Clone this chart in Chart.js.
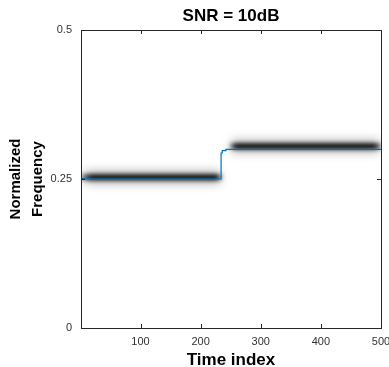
<html lang="en">
<head>
    <meta charset="UTF-8" />
    <title>SNR = 10dB</title>
</head>
<style>
    body { margin: 0; background: #fff; }
    .wrap { width: 389px; height: 367px; }
</style>
<body>
<div class="wrap">
    <canvas id="myChart" width="389" height="367"></canvas>
</div>

<script src="https://cdn.jsdelivr.net/npm/chart.js"></script>
<script>
    // tick labels
    const xTicks = [100, 200, 300, 400, 500];
    const yTicks = [0, 0.25, 0.5];

    // estimated frequency track (blue)
    const trackTime = [1, 12, 234, 234, 236, 236, 242, 242, 500];
    const trackFreq = [0.2512, 0.2500, 0.2500, 0.2936, 0.2936, 0.2975, 0.2975, 0.2997, 0.2997];

    // spectrogram ridge (dark blurred band)
    const ridgeTime = [1, 120, 238, null, 246, 380, 500];
    const ridgeFreq = [0.253, 0.253, 0.253, null, 0.305, 0.305, 0.305];

    const toXY = (t, v) => t.map((x, i) => ({ x: x, y: v[i] }));

    // fade the ridge in/out along time (time, alpha)
    const fade = [[1, 0.35], [18, 1], [226, 1], [238, 0], [246, 0], [258, 1], [488, 1], [500, 0.4]];

    function ridgeColor(alpha) {
        return function (context) {
            const chart = context.chart;
            const a = chart.chartArea;
            if (!a) return 'rgba(0,0,0,' + alpha + ')';
            const xs = chart.scales.x;
            const x0 = xs.getPixelForValue(1), x1 = xs.getPixelForValue(500);
            const g = chart.ctx.createLinearGradient(x0, 0, x1, 0);
            fade.forEach(f => {
                const p = (xs.getPixelForValue(f[0]) - x0) / (x1 - x0);
                g.addColorStop(Math.min(1, Math.max(0, p)), 'rgba(0,0,0,' + (alpha * f[1]) + ')');
            });
            return g;
        };
    }

    // blur the ridge datasets so they look like a spectrogram
    const blurPlugin = {
        id: 'blurRidge',
        beforeDatasetDraw(chart, args) {
            const ds = chart.data.datasets[args.index];
            if (ds.blur) {
                chart.ctx.save();
                chart.ctx.filter = 'blur(' + ds.blur + 'px)';
            }
        },
        afterDatasetDraw(chart, args) {
            const ds = chart.data.datasets[args.index];
            if (ds.blur) chart.ctx.restore();
        }
    };

    // matlab style box with inward ticks + title
    const boxPlugin = {
        id: 'box',
        afterDraw(chart) {
            const c = chart.ctx, a = chart.chartArea;
            const xs = chart.scales.x, ys = chart.scales.y;
            c.save();
            c.strokeStyle = '#262626';
            c.lineWidth = 1;
            c.strokeRect(Math.round(a.left) + 0.5, Math.round(a.top) + 0.5,
                Math.round(a.right - a.left), Math.round(a.bottom - a.top));
            c.beginPath();
            xTicks.forEach(v => {
                const p = Math.round(xs.getPixelForValue(v)) + 0.5;
                c.moveTo(p, a.bottom); c.lineTo(p, a.bottom - 4);
                c.moveTo(p, a.top); c.lineTo(p, a.top + 4);
            });
            yTicks.forEach(v => {
                const p = Math.round(ys.getPixelForValue(v)) + 0.5;
                c.moveTo(a.left, p); c.lineTo(a.left + 4, p);
                c.moveTo(a.right, p); c.lineTo(a.right - 4, p);
            });
            c.stroke();
            c.fillStyle = '#000';
            c.font = 'bold 17px "Liberation Sans", Arial, sans-serif';
            c.textAlign = 'center';
            c.textBaseline = 'middle';
            c.fillText('SNR = 10dB', (a.left + a.right) / 2, 16);
            c.restore();
        }
    };

    const ctx = document.querySelector('#myChart');
    const myChart = new Chart(ctx, {
        type: 'line',
        data: {
            datasets: [{
                label: 'track',
                data: toXY(trackTime, trackFreq),
                borderColor: '#0072BD',
                borderWidth: 1.2,
                pointRadius: 0,
                tension: 0,
                order: 0
            }, {
                label: 'ridge core',
                data: toXY(ridgeTime, ridgeFreq),
                borderColor: ridgeColor(0.95),
                borderWidth: 6,
                borderCapStyle: 'butt',
                pointRadius: 0,
                spanGaps: false,
                blur: 2,
                order: 1
            }, {
                label: 'ridge halo',
                data: toXY(ridgeTime, ridgeFreq),
                borderColor: ridgeColor(0.25),
                borderWidth: 14,
                borderCapStyle: 'butt',
                pointRadius: 0,
                spanGaps: false,
                blur: 4,
                order: 2
            }]
        },
        options: {
            responsive: false,
            animation: false,
            layout: { padding: { top: 30, right: 8, left: 0, bottom: 0 } },
            plugins: {
                legend: { display: false },
                tooltip: { enabled: false },
                title: { display: false }
            },
            scales: {
                x: {
                    type: 'linear',
                    min: 1,
                    max: 500,
                    afterBuildTicks: s => { s.ticks = xTicks.map(v => ({ value: v })); },
                    afterFit: s => { s.height = 39; s.paddingLeft = 0; s.paddingRight = 0; },
                    grid: { display: false, drawTicks: false, tickLength: 0 },
                    border: { display: false },
                    ticks: {
                        padding: 7,
                        maxRotation: 0,
                        color: '#333',
                        font: { family: '"Liberation Sans", Arial, sans-serif', size: 11 }
                    },
                    title: {
                        display: true,
                        text: 'Time index',
                        color: '#000',
                        padding: { top: 0, bottom: 0 },
                        font: { family: '"Liberation Sans", Arial, sans-serif', size: 17, weight: 'bold', lineHeight: 0.8 }
                    }
                },
                y: {
                    min: 0,
                    max: 0.5,
                    afterBuildTicks: s => { s.ticks = yTicks.map(v => ({ value: v })); },
                    afterFit: s => { s.width = 81; s.paddingTop = 0; s.paddingBottom = 0; },
                    grid: { display: false, drawTicks: false, tickLength: 0 },
                    border: { display: false },
                    ticks: {
                        padding: 9,
                        color: '#333',
                        callback: v => String(v),
                        font: { family: '"Liberation Sans", Arial, sans-serif', size: 11 }
                    },
                    title: {
                        display: true,
                        text: ['Normalized', 'Frequency'],
                        color: '#000',
                        padding: { top: 5, bottom: 0 },
                        font: { family: '"Liberation Sans", Arial, sans-serif', size: 15, weight: 'bold', lineHeight: 1.45 }
                    }
                }
            }
        },
        plugins: [blurPlugin, boxPlugin]
    });
</script>
</body>
</html>
